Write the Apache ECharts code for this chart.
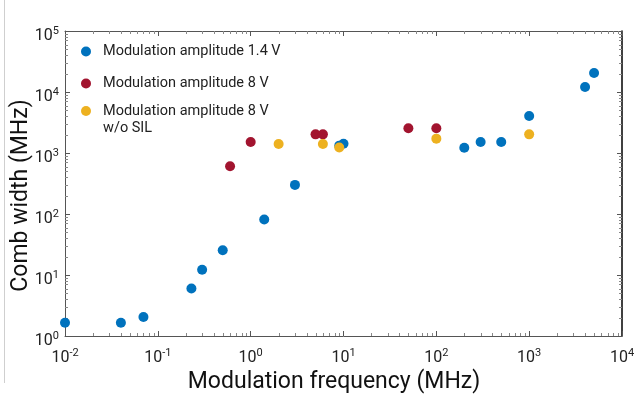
<!DOCTYPE html>
<html>
<head>
<meta charset="utf-8">
<script src="https://cdn.jsdelivr.net/npm/echarts@6/dist/echarts.min.js"></script>
<style>
  html, body { margin: 0; padding: 0; background: #fff; }
  #main { width: 635px; height: 396px; }
</style>
</head>
<body>
<div id="main"></div>
<script>
// 数据 (MHz)
const blueFreq = [0.01, 0.04, 0.07, 0.23, 0.3, 0.5, 1.4, 3, 9, 10, 200, 300, 500, 1000, 4000, 5000];
const blueWidth = [1.65, 1.65, 2.05, 6, 12.2, 25.5, 81, 300, 1320, 1420, 1220, 1510, 1510, 4050, 12100, 20500];
const redFreq = [0.6, 1, 5, 6, 50, 100];
const redWidth = [605, 1510, 2020, 2020, 2540, 2540];
const yellowFreq = [2, 6, 9, 100, 1000];
const yellowWidth = [1400, 1400, 1230, 1720, 2020];
const seriesNames = ['Modulation amplitude 1.4 V', 'Modulation amplitude 8 V', 'Modulation amplitude 8 V w/o SIL'];
const colors = ['#0072BD', '#A2142F', '#EDB120'];

const xMin = 0.01, xMax = 10000, yMin = 1, yMax = 100000;
const FONT = 'Roboto';
const AXIS_GREY = '#555';

function zip(xs, ys) {
  return xs.map((x, i) => [x, ys[i]]);
}

// 对数轴的次刻度 2..9 x 10^k
const minorTicks = [];
for (let k = -2; k < 4; k++) {
  for (let m = 2; m <= 9; m++) minorTicks.push([m * Math.pow(10, k), yMin, 0]);
}
for (let k = 0; k < 5; k++) {
  for (let m = 2; m <= 9; m++) minorTicks.push([xMin, m * Math.pow(10, k), 1]);
}

function powLabel(v) {
  const e = Math.round(Math.log10(v));
  return '{b|10}{s|' + e + '}';
}
const labelRich = {
  b: { fontFamily: FONT, fontSize: 16, color: '#222' },
  s: { fontFamily: FONT, fontSize: 11, color: '#222', padding: [0, 0, 9, 0] }
};
const legendText = { fontFamily: FONT, fontSize: 14.5, color: '#222', lineHeight: 10, padding: [0, 0, 0, 7] };

const myChart = echarts.init(document.getElementById('main'));

const option = {
  animation: false,
  backgroundColor: '#fff',
  grid: { left: 65, top: 31, right: 13, bottom: 60, outerBoundsMode: 'none', containLabel: false },
  graphic: [{
    type: 'line',
    shape: { x1: 4.5, y1: 0, x2: 4.5, y2: 383 },
    style: { stroke: '#cfcfcf', lineWidth: 1 }
  }],
  legend: [
    {
      left: 81, top: 44, padding: 0, itemWidth: 10, itemHeight: 10, icon: 'circle',
      data: [seriesNames[0]], textStyle: legendText
    },
    {
      left: 81, top: 76, padding: 0, itemWidth: 10, itemHeight: 10, icon: 'circle',
      data: [seriesNames[1]], textStyle: legendText
    },
    {
      left: 81, top: 85.5, padding: 0, itemWidth: 10, itemHeight: 10, icon: 'circle',
      data: [seriesNames[2]],
      formatter: () => '\nModulation amplitude 8 V\nw/o SIL',
      textStyle: Object.assign({}, legendText, { lineHeight: 17 })
    }
  ],
  xAxis: [
    {
      type: 'log', logBase: 10, min: xMin, max: xMax, position: 'bottom',
      name: 'Modulation frequency (MHz)', nameLocation: 'middle', nameGap: 35,
      nameTextStyle: { fontFamily: FONT, fontSize: 23, color: '#111', padding: [0, 19, 0, 0] },
      axisLine: { lineStyle: { color: AXIS_GREY, width: 1 } },
      axisTick: { inside: true, length: 5, lineStyle: { color: AXIS_GREY } },
      axisLabel: { formatter: powLabel, rich: labelRich, margin: 12 },
      splitLine: { show: false }
    },
    {
      type: 'log', logBase: 10, min: xMin, max: xMax, position: 'top',
      axisLine: { lineStyle: { color: AXIS_GREY, width: 1 } },
      axisTick: { inside: true, length: 5, lineStyle: { color: AXIS_GREY } },
      axisLabel: { show: false },
      splitLine: { show: false }
    }
  ],
  yAxis: [
    {
      type: 'log', logBase: 10, min: yMin, max: yMax, position: 'left',
      name: 'Comb width (MHz)', nameLocation: 'middle', nameGap: 32, nameMoveOverlap: false,
      nameTextStyle: { fontFamily: FONT, fontSize: 23, color: '#111', padding: [0, 24, 0, 0] },
      axisLine: { lineStyle: { color: AXIS_GREY, width: 1 } },
      axisTick: { inside: true, length: 5, lineStyle: { color: AXIS_GREY } },
      axisLabel: { formatter: powLabel, rich: labelRich, margin: 6, padding: [10, 0, 0, 0] },
      splitLine: { show: false }
    },
    {
      type: 'log', logBase: 10, min: yMin, max: yMax, position: 'right',
      axisLine: { lineStyle: { color: '#000', width: 1.5 } },
      axisTick: { inside: true, length: 5, lineStyle: { color: AXIS_GREY } },
      axisLabel: { show: false },
      splitLine: { show: false }
    }
  ],
  series: [
    {
      // 次刻度
      type: 'custom', silent: true, z: 1,
      data: minorTicks,
      renderItem: function (params, api) {
        const kind = api.value(2);
        const len = 3;
        const style = { stroke: '#888', lineWidth: 1 };
        if (kind === 0) {
          const b = api.coord([api.value(0), yMin]);
          const t = api.coord([api.value(0), yMax]);
          const x = Math.round(b[0]) + 0.5;
          return { type: 'group', children: [
            { type: 'line', shape: { x1: x, y1: b[1], x2: x, y2: b[1] - len }, style: style },
            { type: 'line', shape: { x1: x, y1: t[1], x2: x, y2: t[1] + len }, style: style }
          ] };
        }
        const l = api.coord([xMin, api.value(1)]);
        const r = api.coord([xMax, api.value(1)]);
        const y = Math.round(l[1]) + 0.5;
        return { type: 'group', children: [
          { type: 'line', shape: { x1: l[0], y1: y, x2: l[0] + len, y2: y }, style: style },
          { type: 'line', shape: { x1: r[0], y1: y, x2: r[0] - len, y2: y }, style: style }
        ] };
      }
    },
    {
      name: seriesNames[0], type: 'scatter', symbolSize: 10, z: 3,
      itemStyle: { color: colors[0], opacity: 1 },
      data: zip(blueFreq, blueWidth)
    },
    {
      name: seriesNames[1], type: 'scatter', symbolSize: 10, z: 4,
      itemStyle: { color: colors[1], opacity: 1 },
      data: zip(redFreq, redWidth)
    },
    {
      name: seriesNames[2], type: 'scatter', symbolSize: 10, z: 5,
      itemStyle: { color: colors[2], opacity: 1 },
      data: zip(yellowFreq, yellowWidth)
    }
  ]
};

myChart.setOption(option);
</script>
</body>
</html>
